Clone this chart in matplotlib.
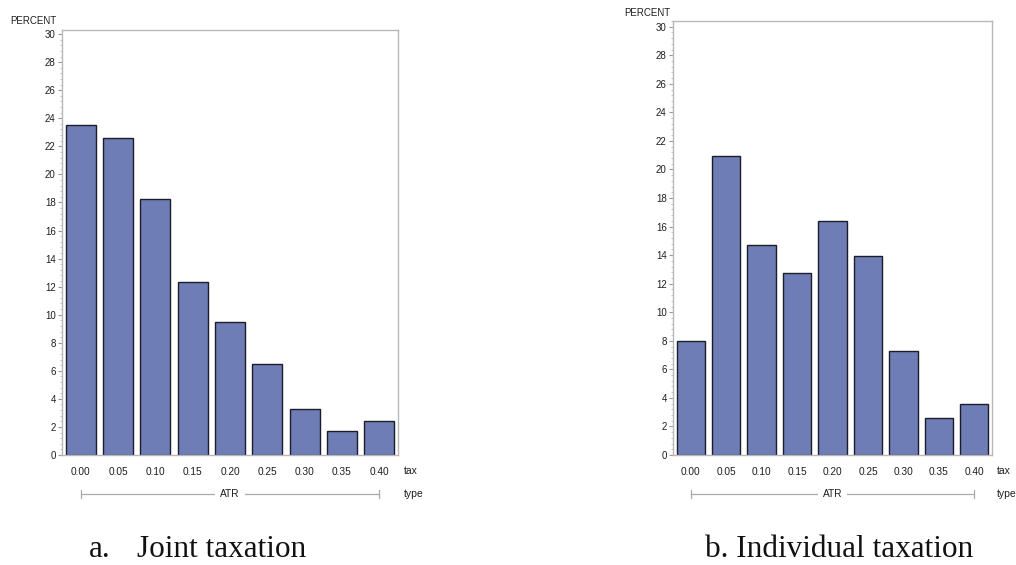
import matplotlib
matplotlib.use("Agg")
import matplotlib.pyplot as plt
from matplotlib.ticker import MultipleLocator
from matplotlib.transforms import ScaledTranslation

categories = ["0.00", "0.05", "0.10", "0.15", "0.20", "0.25", "0.30", "0.35", "0.40"]
joint_pct = [23.5, 22.6, 18.25, 12.35, 9.45, 6.5, 3.25, 1.7, 2.45]
indiv_pct = [8.0, 20.95, 14.7, 12.75, 16.4, 13.95, 7.3, 2.6, 3.6]
yticks = list(range(0, 31, 2))
group_label = "ATR"
caption_tags = ["a.", "b."]
caption_texts = ["Joint taxation", "Individual taxation"]

W, H = 1016, 565
fig = plt.figure(figsize=(W / 100, H / 100), dpi=100)

BAR = "#6E7DB5"
EDGE = "#1c1c2a"
SPINE = "#b8b8b8"
TXT = "#1e1e1e"
FONT = "Liberation Sans"


def make_panel(px_left, px_right, px_top, px_bottom, ytop, values, perc_xy):
    ax = fig.add_axes([px_left / W, (H - px_bottom) / H,
                       (px_right - px_left) / W, (px_bottom - px_top) / H])
    xs = list(range(len(categories)))
    ax.bar(xs, values, width=0.8, color=BAR, edgecolor=EDGE, linewidth=1.0)
    ax.set_xlim(-0.5, 8.5)
    ax.set_ylim(0, ytop)
    ax.set_yticks(yticks)
    ax.set_yticklabels([str(t) for t in yticks], fontsize=7, family=FONT, color=TXT)
    ax.yaxis.set_minor_locator(MultipleLocator(0.4))
    ax.tick_params(axis="y", which="major", length=3, width=0.8, color="#999999", pad=1.5)
    ax.tick_params(axis="y", which="minor", length=1.5, width=0.6, color="#bbbbbb")
    ax.set_xticks(xs)
    ax.set_xticklabels(categories, fontsize=7.3, family=FONT, color=TXT)
    ax.tick_params(axis="x", length=0, pad=8.3)
    for s in ax.spines.values():
        s.set_color(SPINE)
        s.set_linewidth(1.0)

    trans_row1 = ax.get_xaxis_transform() + ScaledTranslation(0, -0.157, fig.dpi_scale_trans)
    trans_row2 = ax.get_xaxis_transform() + ScaledTranslation(0, -0.39, fig.dpi_scale_trans)
    ax.text(8.65, 0, "tax", transform=trans_row1, ha="left", va="center",
            fontsize=7.5, family=FONT, color=TXT)
    ax.text(8.65, 0, "type", transform=trans_row2, ha="left", va="center",
            fontsize=7.5, family=FONT, color=TXT)
    ax.plot([0, 8], [0, 0], transform=trans_row2, color="#aaaaaa", lw=0.9, clip_on=False)
    for xe in (0, 8):
        ax.plot([xe, xe], [-0.009, 0.009], transform=trans_row2,
                color="#aaaaaa", lw=0.9, clip_on=False)
    ax.text(4, 0, group_label, transform=trans_row2, ha="center", va="center",
            fontsize=7.3, family=FONT, color=TXT,
            bbox=dict(facecolor="white", edgecolor="none", pad=3.5))
    fig.text(perc_xy[0] / W, (H - perc_xy[1]) / H, "PERCENT", ha="left", va="center",
             fontsize=7, family=FONT, color=TXT)
    return ax


make_panel(62, 398, 30, 455, 30.29, joint_pct, (10, 21))
make_panel(673, 992, 21, 455, 30.4, indiv_pct, (624, 13))

cap_kw = dict(ha="left", va="baseline", fontsize=22.5, family="Liberation Serif", color="#111111")
base_y = (H - 557) / H
fig.text(89 / W, base_y, caption_tags[0], **cap_kw)
fig.text(137 / W, base_y, caption_texts[0], **cap_kw)
fig.text(705 / W, base_y, caption_tags[1] + " " + caption_texts[1], **cap_kw)

fig.savefig("out.png", dpi=100, facecolor="white")
